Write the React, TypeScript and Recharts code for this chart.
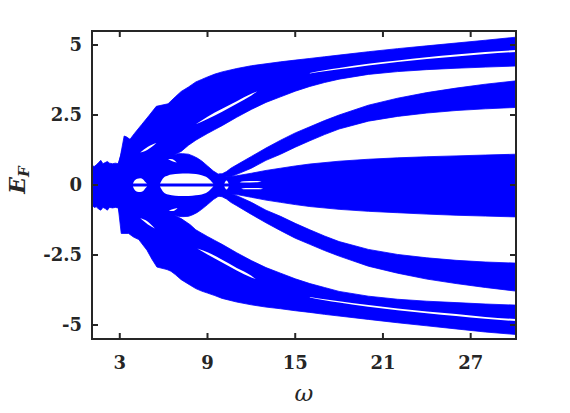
import React from 'react';
import { ComposedChart, Area, XAxis, YAxis, ReferenceArea } from 'recharts';

// [omega, low, high]
type Pt = [number, number, number];

const xTicks = [3, 9, 15, 21, 27];
const yTicks = [-5, -2.5, 0, 2.5, 5];
const yTickLabels: Record<string, string> = { '-5': '-5', '-2.5': '-2.5', '0': '0', '2.5': '2.5', '5': '5' };

// central region (low-frequency blob, arch around the big lens, central band)
const coreBand: Pt[] = [
  [1.1, -0.72, 0.7], [1.25, -0.8, 0.66], [1.4, -0.78, 0.72], [1.55, -0.86, 0.8], [1.7, -0.9, 0.88],
  [1.85, -0.8, 0.76], [2.0, -0.84, 0.8], [2.15, -0.9, 0.84], [2.3, -0.8, 0.78], [2.5, -0.82, 0.76],
  [2.7, -0.8, 0.78], [2.9, -0.82, 0.76], [3.0, -1.0, 0.92], [3.2, -1.3, 1.3], [6.3, -1.3, 1.3],
  [6.5, -1.06, 1.05], [7.0, -1.12, 1.12], [7.3, -1.13, 1.12], [7.7, -1.12, 1.1], [8.0, -1.06, 1.04],
  [8.3, -0.98, 0.96], [8.6, -0.87, 0.86], [9.0, -0.7, 0.68], [9.4, -0.52, 0.5], [9.7, -0.42, 0.4],
  [10.0, -0.36, 0.35], [10.3, -0.32, 0.3], [10.6, -0.32, 0.3], [11, -0.34, 0.33], [12, -0.44, 0.42],
  [13, -0.54, 0.52], [14, -0.62, 0.6], [15, -0.7, 0.68], [16, -0.77, 0.75], [18, -0.87, 0.85],
  [20, -0.94, 0.92], [22, -0.99, 0.97], [24, -1.04, 1.01], [26, -1.08, 1.04], [28, -1.11, 1.07],
  [30.1, -1.14, 1.1],
];

// outer upper band (two sub-bands separated by a thin gap above omega ~16)
const upperOuter: Pt[] = [
  [2.9, 0.5, 0.76], [3.05, 0.5, 1.05], [3.3, 0.5, 1.75], [3.45, 0.5, 1.72], [3.7, 0.5, 1.63],
  [4.0, 0.5, 1.84], [4.5, 0.5, 2.16], [5.0, 0.5, 2.48], [5.5, 0.6, 2.81], [6.3, 0.9, 2.9],
  [6.5, 1.0, 3.0], [6.8, 1.1, 3.15], [7.2, 1.2, 3.34], [7.7, 1.42, 3.5], [8.2, 1.6, 3.68],
  [8.6, 1.72, 3.77], [9.0, 1.84, 3.86], [9.5, 1.98, 3.96], [10, 2.12, 4.04], [11, 2.42, 4.16],
  [12, 2.7, 4.26], [13, 2.95, 4.33], [14, 3.15, 4.4], [15, 3.35, 4.46], [16, 3.52, 4.52],
  [17, 3.66, 4.58], [18, 3.78, 4.64], [20, 3.95, 4.76], [22, 4.05, 4.87], [24, 4.12, 4.97],
  [26, 4.17, 5.07], [28, 4.21, 5.17], [30.1, 4.25, 5.28],
];

const lowerOuter: Pt[] = [
  [2.9, -0.82, -0.5], [3.1, -1.73, -0.5], [3.6, -1.73, -0.5], [3.94, -1.86, -0.5], [4.3, -1.95, -0.5],
  [4.86, -2.33, -0.5], [5.2, -2.65, -0.5], [5.54, -2.93, -0.6], [6.23, -3.02, -0.9], [6.5, -3.08, -1.0],
  [6.8, -3.2, -1.1], [7.2, -3.38, -1.2], [7.82, -3.58, -1.42], [8.2, -3.7, -1.6], [8.6, -3.79, -1.72],
  [9.0, -3.86, -1.84], [9.5, -3.95, -1.98], [10, -4.05, -2.12], [11, -4.18, -2.42], [12, -4.28, -2.7],
  [13, -4.36, -2.95], [14, -4.42, -3.15], [15, -4.49, -3.35], [16, -4.55, -3.52], [17, -4.62, -3.66],
  [18, -4.68, -3.8], [20, -4.8, -3.97], [22, -4.92, -4.08], [24, -5.03, -4.15], [26, -5.14, -4.2],
  [28, -5.25, -4.25], [30.1, -5.34, -4.29],
];

// bands leaving the crossing near omega ~10
const upperThird: Pt[] = [
  [9.8, 0.34, 0.4], [10.0, 0.32, 0.4], [10.3, 0.3, 0.48], [10.6, 0.3, 0.6], [11, 0.38, 0.72],
  [12, 0.6, 1.02], [13, 0.88, 1.32], [14, 1.1, 1.6], [15, 1.35, 1.86], [16, 1.58, 2.08],
  [17, 1.8, 2.3], [18, 2.0, 2.5], [20, 2.28, 2.85], [22, 2.45, 3.1], [24, 2.57, 3.3],
  [26, 2.66, 3.46], [28, 2.72, 3.6], [30.1, 2.77, 3.72],
];

const lowerThird: Pt[] = [
  [9.8, -0.4, -0.34], [10.0, -0.42, -0.32], [10.3, -0.5, -0.3], [10.6, -0.62, -0.3], [11, -0.74, -0.38],
  [12, -1.05, -0.62], [13, -1.35, -0.9], [14, -1.63, -1.12], [15, -1.9, -1.37], [16, -2.12, -1.6],
  [17, -2.34, -1.82], [18, -2.54, -2.02], [20, -2.9, -2.3], [22, -3.15, -2.48], [24, -3.36, -2.6],
  [26, -3.52, -2.69], [28, -3.66, -2.75], [30.1, -3.79, -2.79],
];

// white gaps and lenses inside the bands
const upperGap: Pt[] = [
  [16, 3.98, 4.0], [17, 4.06, 4.1], [18, 4.13, 4.18], [20, 4.27, 4.33], [22, 4.39, 4.45],
  [24, 4.5, 4.56], [26, 4.59, 4.66], [28, 4.68, 4.75], [30.1, 4.75, 4.82],
];
const lowerGap: Pt[] = [
  [16, -4.02, -4.0], [17, -4.12, -4.08], [18, -4.2, -4.15], [20, -4.35, -4.29], [22, -4.47, -4.41],
  [24, -4.58, -4.52], [26, -4.68, -4.61], [28, -4.78, -4.71], [30.1, -4.86, -4.79],
];
const smallLensUp: Pt[] = [
  [3.9, 0.05, 0.05], [4.0, 0.05, 0.15], [4.2, 0.05, 0.22], [4.4, 0.05, 0.24], [4.6, 0.05, 0.2],
  [4.8, 0.05, 0.08], [4.87, 0.05, 0.05],
];
const smallLensDown: Pt[] = [
  [3.9, -0.05, -0.05], [4.0, -0.16, -0.05], [4.2, -0.24, -0.05], [4.4, -0.25, -0.05], [4.6, -0.21, -0.05],
  [4.8, -0.09, -0.05], [4.87, -0.05, -0.05],
];
const bigLensUp: Pt[] = [
  [5.75, 0.05, 0.05], [6.0, 0.05, 0.26], [6.3, 0.05, 0.34], [6.8, 0.05, 0.39], [7.3, 0.05, 0.41],
  [7.7, 0.05, 0.41], [8.2, 0.05, 0.39], [8.6, 0.05, 0.35], [9.0, 0.05, 0.26], [9.4, 0.05, 0.05],
];
const bigLensDown: Pt[] = [
  [5.75, -0.05, -0.05], [6.0, -0.26, -0.05], [6.3, -0.34, -0.05], [6.8, -0.38, -0.05], [7.3, -0.39, -0.05],
  [7.7, -0.39, -0.05], [8.2, -0.37, -0.05], [8.6, -0.34, -0.05], [9.0, -0.25, -0.05], [9.4, -0.05, -0.05],
];
const upperBigSliver: Pt[] = [[8.2, 2.17, 2.17], [9.0, 2.36, 2.44], [10, 2.62, 2.72], [11, 2.9, 2.99], [12, 3.2, 3.26], [12.4, 3.34, 3.34]];
const lowerBigSliver: Pt[] = [[8.3, -2.27, -2.27], [9.0, -2.48, -2.4], [10, -2.77, -2.67], [11, -3.05, -2.96], [12, -3.3, -3.24], [12.3, -3.36, -3.36]];
const upperSmallSliver: Pt[] = [[4.4, 1.16, 1.16], [4.9, 1.26, 1.36], [5.5, 1.5, 1.5]];
const lowerSmallSliver: Pt[] = [[4.4, -1.19, -1.19], [4.9, -1.4, -1.3], [5.4, -1.55, -1.55]];
const upperArchSliver: Pt[] = [[6.3, 0.93, 0.93], [6.6, 0.85, 0.92], [6.9, 0.8, 0.8]];
const lowerArchSliver: Pt[] = [[6.35, -0.92, -0.92], [6.65, -0.93, -0.86], [6.95, -0.82, -0.82]];
const pinchUp: Pt[] = [[10.15, 0.05, 0.05], [10.3, 0.05, 0.16], [10.45, 0.05, 0.05]];
const pinchDown: Pt[] = [[10.15, -0.05, -0.05], [10.3, -0.16, -0.05], [10.45, -0.05, -0.05]];
const slitUp: Pt[] = [[11.2, 0.1, 0.1], [11.5, 0.09, 0.13], [12.4, 0.1, 0.14], [12.7, 0.12, 0.12]];
const slitDown: Pt[] = [[11.3, -0.13, -0.13], [11.6, -0.15, -0.11], [12.5, -0.15, -0.11], [12.8, -0.13, -0.13]];

const blueSeries: Pt[][] = [coreBand, upperOuter, lowerOuter, upperThird, lowerThird];
const whiteSeries: Pt[][] = [
  upperGap, lowerGap, smallLensUp, smallLensDown, bigLensUp, bigLensDown,
  upperBigSliver, lowerBigSliver, upperSmallSliver, lowerSmallSliver,
  upperArchSliver, lowerArchSliver, pinchUp, pinchDown, slitUp, slitDown,
];
const allSeries = [...blueSeries, ...whiteSeries];

const grid = Array.from(new Set(allSeries.flatMap((s) => s.map((p) => p[0])))).sort((a, b) => a - b);
const rows = grid.map((w) => {
  const r: Record<string, unknown> = { w };
  allSeries.forEach((s, k) => {
    const p = s.find((q) => q[0] === w);
    if (p) r['s' + k] = [p[1], p[2]];
  });
  return r;
});

const W = 570;
const H = 413;
const PL = 92;
const PR = 516;
const PT = 31;
const PB = 339;
const INK = '#262626';
const BLUE = '#0000ff';
const FONT = '"DejaVu Serif", "Liberation Serif", serif';

const XTick = (props: any) => {
  const { x, payload } = props;
  return (
    <g>
      <line x1={x} x2={x} y1={PB} y2={PB - 6} stroke={INK} strokeWidth={2} />
      <line x1={x} x2={x} y1={PT} y2={PT + 6} stroke={INK} strokeWidth={2} />
      <text x={x} y={PB + 30} textAnchor="middle" fontFamily={FONT} fontWeight="bold" fontSize={18} fill={INK}>
        {payload.value}
      </text>
    </g>
  );
};

const YTick = (props: any) => {
  const { y, payload } = props;
  return (
    <g>
      <line x1={PL} x2={PL + 6} y1={y} y2={y} stroke={INK} strokeWidth={2} />
      <line x1={PR} x2={PR - 6} y1={y} y2={y} stroke={INK} strokeWidth={2} />
      <text x={PL - 10} y={y} dy="0.36em" textAnchor="end" fontFamily={FONT} fontWeight="bold" fontSize={18} fill={INK}>
        {yTickLabels[String(payload.value)]}
      </text>
    </g>
  );
};

const YLabel = () => (
  <text
    x={25}
    y={180}
    transform="rotate(-90, 25, 180)"
    textAnchor="middle"
    fontFamily={FONT}
    fontWeight="bold"
    fontStyle="italic"
    fill={INK}
  >
    <tspan fontSize={22}>E</tspan>
    <tspan fontSize={15} dy={4}>F</tspan>
  </text>
);

const XLabel = () => (
  <text x={(PL + PR) / 2} y={401} textAnchor="middle" fontFamily={FONT} fontStyle="italic" fontSize={23} fill={INK}>
    ω
  </text>
);

export default function App() {
  return (
    <div style={{ position: 'absolute', left: 0, top: 0, width: W, height: H, background: '#fff' }}>
      <ComposedChart
        width={W}
        height={H}
        data={rows}
        margin={{ top: PT, right: W - PR, bottom: H - PB - 40, left: PL - 80 }}
      >
        <XAxis
          type="number"
          dataKey="w"
          domain={[1.1, 30.1]}
          allowDataOverflow
          ticks={xTicks}
          height={40}
          axisLine={false}
          tickLine={false}
          tickSize={0}
          tick={<XTick />}
          label={{ content: () => <XLabel /> }}
        />
        <YAxis
          type="number"
          domain={[-5.5, 5.5]}
          allowDataOverflow
          ticks={yTicks}
          width={80}
          axisLine={false}
          tickLine={false}
          tickSize={0}
          tick={<YTick />}
          label={{ content: () => <YLabel /> }}
        />
        {blueSeries.map((_, k) => (
          <Area
            key={'b' + k}
            type="linear"
            dataKey={'s' + k}
            fill={BLUE}
            fillOpacity={1}
            stroke={BLUE}
            strokeWidth={0.8}
            connectNulls
            dot={false}
            activeDot={false}
            isAnimationActive={false}
          />
        ))}
        {whiteSeries.map((_, j) => (
          <Area
            key={'w' + j}
            type="monotone"
            dataKey={'s' + (blueSeries.length + j)}
            fill="#ffffff"
            fillOpacity={1}
            stroke="none"
            connectNulls
            dot={false}
            activeDot={false}
            isAnimationActive={false}
          />
        ))}
        <ReferenceArea x1={1.1} x2={30.1} y1={-5.5} y2={5.5} fill="none" stroke={INK} strokeWidth={2} ifOverflow="visible" />
      </ComposedChart>
    </div>
  );
}
